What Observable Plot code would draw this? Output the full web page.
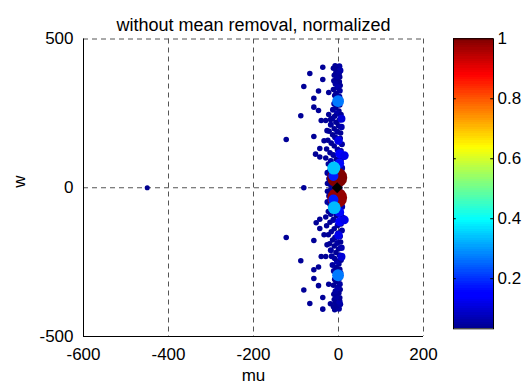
<!DOCTYPE html>
<html><head><meta charset="utf-8">
<script src="https://cdn.jsdelivr.net/npm/d3@7"></script>
<script src="https://cdn.jsdelivr.net/npm/@observablehq/plot@0.6"></script>
<style>
body{margin:0;background:#fff;}
#wrap{display:flex;width:530px;height:383px;overflow:hidden;background:#fff;}
#wrap svg{display:block;}
</style></head><body><div id="wrap"></div>
<script>
const title = "without mean removal, normalized";
const xLabel = "mu";
const yLabel = "w";
const xTicks = [-600, -400, -200, 0, 200];
const yTicks = [-500, 0, 500];
const cbTicks = [0.2, 0.4, 0.6, 0.8, 1];
const cbTickLabels = ["0.2", "0.4", "0.6", "0.8", "1"];
const xDomain = [-600, 200];
const yDomain = [-500, 500];

// dense column of points near mu = 0: [mu, w, value]
const columnUpper = [[-8,410,.04],[2,408,.05],[-12,402,.04],[-3,398,.04],[4,394,.06],[-6,388,.04],[1,384,.05],[-10,378,.04],[3,372,.04],[-4,368,.05],[-11,360,.04],[2,356,.04],[-7,350,.05],[4,344,.04],[-2,338,.06],[-12,330,.04],[3,326,.05],[-6,318,.04],[-9,310,.04],[2,306,.05],[-4,300,.04],[5,296,.04],[-10,282,.05],[3,278,.04],[-6,270,.04],[-13,262,.05],[1,258,.04],[-3,250,.06],[6,246,.04],[-9,240,.04],[-15,232,.05],[2,228,.04],[-19,229,.04],[-6,220,.04],[-18,212,.05],[0,208,.04],[7,204,.06],[-10,198,.04],[-22,190,.04],[-3,188,.05],[5,184,.04],[-14,178,.04],[-8,170,.05],[4,166,.04],[-25,160,.04],[0,156,.06],[-17,150,.04],[8,146,.05],[-10,140,.04],[-28,130,.04],[-2,128,.05],[6,124,.04],[-20,118,.04],[-12,110,.05],[10,104,.06],[-30,100,.04],[-5,96,.04],[-18,90,.05],[6,92,.04],[-24,80,.04],[-8,76,.05],[-14,70,.04],[8,66,.06],[-20,58,.04],[-26,50,.05],[-6,48,.04],[4,44,.05],[-16,40,.04],[8,36,.04],[-22,30,.05],[-10,26,.04],[-4,20,.06],[6,16,.04],[-18,10,.05],[-8,8,.04],[2,4,.05],[-26,14,.04],[9,24,.05]];
const columnLower = [[-9,-410,.04],[1,-407,.05],[-12,-400,.04],[-4,-397,.04],[4,-392,.05],[-19,-390,.04],[-7,-386,.04],[2,-382,.06],[-10,-376,.04],[3,-370,.04],[-5,-366,.05],[-11,-358,.04],[1,-354,.04],[-7,-348,.05],[4,-342,.04],[-2,-336,.06],[-12,-328,.04],[3,-324,.05],[-6,-316,.04],[-9,-308,.04],[2,-304,.05],[-4,-298,.04],[5,-286,.04],[-11,-280,.05],[3,-274,.04],[-6,-268,.04],[-14,-260,.05],[1,-256,.04],[-3,-248,.06],[6,-244,.04],[-9,-238,.04],[-16,-230,.05],[2,-226,.04],[-6,-218,.04],[-18,-210,.05],[0,-206,.04],[7,-202,.06],[-10,-196,.04],[-21,-188,.04],[-3,-186,.05],[5,-182,.04],[-14,-176,.04],[-8,-168,.05],[4,-164,.04],[-24,-158,.04],[0,-154,.06],[-17,-148,.04],[8,-144,.05],[-10,-138,.04],[-28,-128,.04],[-2,-126,.05],[6,-122,.04],[-20,-116,.04],[-12,-108,.05],[10,-102,.06],[-30,-98,.04],[-5,-94,.04],[-18,-88,.05],[6,-90,.04],[-24,-80,.04],[-8,-76,.05],[-14,-70,.04],[8,-64,.06],[-20,-56,.04],[-26,-48,.05],[-6,-46,.04],[4,-42,.05],[-16,-38,.04],[8,-34,.04],[-22,-28,.05],[-10,-24,.04],[-4,-18,.06],[6,-14,.04],[-18,-8,.05],[-8,-6,.04],[2,-2,.05],[-26,-12,.04],[9,-22,.05]];

// scattered points to the left of the column: [mu, w, value]
const scatterUpper = [[-37,405,.04],[-67.5,384,.04],[-37,364,.04],[-81.6,340,.04],[-47,325,.04],[-23,320,.04],[-58,301,.04],[-58,271,.04],[-47,260,.04],[-88.7,242,.04],[-23,246,.04],[-40.7,226,.04],[-30,226,.04],[-123,162,.04],[-58,172,.04],[-44,132,.04],[-54,113,.04],[-44,103,.04],[-34,158,.04],[-27,192,.04]];
const scatterLower = [[-52.5,-118,.04],[-44,-106,.04],[-44,-137,.04],[-123,-167,.04],[-58,-177,.04],[-88.7,-245,.04],[-40.7,-231,.04],[-30,-231,.04],[-58,-276,.04],[-47,-266,.04],[-58,-305,.04],[-23,-324,.04],[-47,-329,.04],[-81.6,-344,.04],[-37,-369,.04],[-67.5,-389,.04],[-37,-408,.04],[-34,-158,.04],[-27,-192,.04]];
const scatterAxis = [[-81.6,0,.04],[-450,0,.033]];

// brighter, larger points: [mu, w, value]
const highlights = [[-3,34,1.0],[-3,-34,0.98],[3,114,.14],[14,108,.12],[2,82,.16],[7,232,.1],[0,159,.12],[-12,40,.18],[3,-114,.14],[14,-108,.12],[2,-82,.16],[7,-232,.1],[0,-160,.12],[-12,-40,.18],[-11,66,.34],[-10,-67,.33],[-1,291,.27],[-1,-294,.27]];

// black diamond marker
const marker = [[-3,0]];

const points = [...columnUpper, ...columnLower, ...scatterUpper, ...scatterLower, ...scatterAxis, ...highlights]
  .map(([mu, w, v]) => ({mu, w, v}));
const cDomain = d3.extent(points, d => d.v);

const clamp = x => Math.max(0, Math.min(1, x));
const jet = t => d3.rgb(
  255 * clamp(Math.min(4 * t - 1.5, -4 * t + 4.5)),
  255 * clamp(Math.min(4 * t - 0.5, -4 * t + 3.5)),
  255 * clamp(Math.min(4 * t + 0.5625, -4 * t + 2.5))
).formatHex();

const FONT = "'Liberation Sans', Arial, Helvetica, sans-serif";
const gridStyle = {stroke: "#555", strokeDasharray: "5,4", strokeWidth: 1, strokeOpacity: 1};
const fmt = d => String(d);

const main = Plot.plot({
  width: 440, height: 383,
  marginLeft: 83, marginRight: 17, marginTop: 38.5, marginBottom: 47,
  style: {fontFamily: FONT, fontSize: "17px", background: "white", color: "black"},
  x: {domain: xDomain},
  y: {domain: yDomain},
  r: {type: "pow", exponent: 0.4, domain: [0, 1], range: [0, 10]},
  color: {type: "linear", domain: cDomain, interpolate: jet},
  marks: [
    Plot.ruleX(xTicks.slice(1), gridStyle),
    Plot.ruleY(yTicks.slice(1), gridStyle),
    Plot.ruleX([xDomain[0]], {stroke: "black", strokeWidth: 1}),
    Plot.ruleY([yDomain[0]], {stroke: "black", strokeWidth: 1}),
    Plot.axisX(xTicks, {tickSize: 0, tickPadding: 11, fontSize: 17, label: null, tickFormat: fmt}),
    Plot.axisY(yTicks, {tickSize: 0, tickPadding: 10, fontSize: 17, label: null, tickFormat: fmt}),
    Plot.dot(points, {x: "mu", y: "w", r: "v", fill: "v", stroke: null, sort: null}),
    Plot.dot(marker, {x: d => d[0], y: d => d[1], r: 5, symbol: "diamond2", fill: "black"}),
    Plot.text([title], {frameAnchor: "top", dy: -21, fontSize: 18}),
    Plot.text([xLabel], {frameAnchor: "bottom", dy: 44, fontSize: 17}),
    Plot.text([yLabel], {frameAnchor: "left", dx: -64, rotate: -90, fontSize: 17})
  ]
});

const cbN = 128;
const cbStep = (1 - cDomain[0]) / cbN;
const cbSteps = d3.range(cbN).map(i => cDomain[0] + i * cbStep);
const cbar = Plot.plot({
  width: 90, height: 383,
  marginLeft: 13, marginRight: 37, marginTop: 38.3, marginBottom: 54.7,
  style: {fontFamily: FONT, fontSize: "17px", background: "white", color: "black"},
  x: {domain: [0, 1], axis: null},
  y: {domain: [cDomain[0], 1]},
  color: {type: "linear", domain: cDomain, interpolate: jet},
  marks: [
    Plot.rect(cbSteps, {x1: 0, x2: 1, y1: d => d, y2: d => Math.min(1, d + cbStep * 3), fill: d => d + cbStep / 2, shapeRendering: "crispEdges"}),
    Plot.ruleY(cbTicks.slice(0, 4), {x1: 0, x2: 0.07, stroke: "black"}),
    Plot.ruleY(cbTicks.slice(0, 4), {x1: 0.93, x2: 1, stroke: "black"}),
    Plot.frame({stroke: "black", strokeWidth: 1}),
    Plot.axisY(cbTicks, {anchor: "right", tickSize: 0, tickPadding: 4, fontSize: 17, label: null, tickFormat: (d, i) => cbTickLabels[i]})
  ]
});

document.getElementById("wrap").append(main, cbar);
</script>
</body></html>
